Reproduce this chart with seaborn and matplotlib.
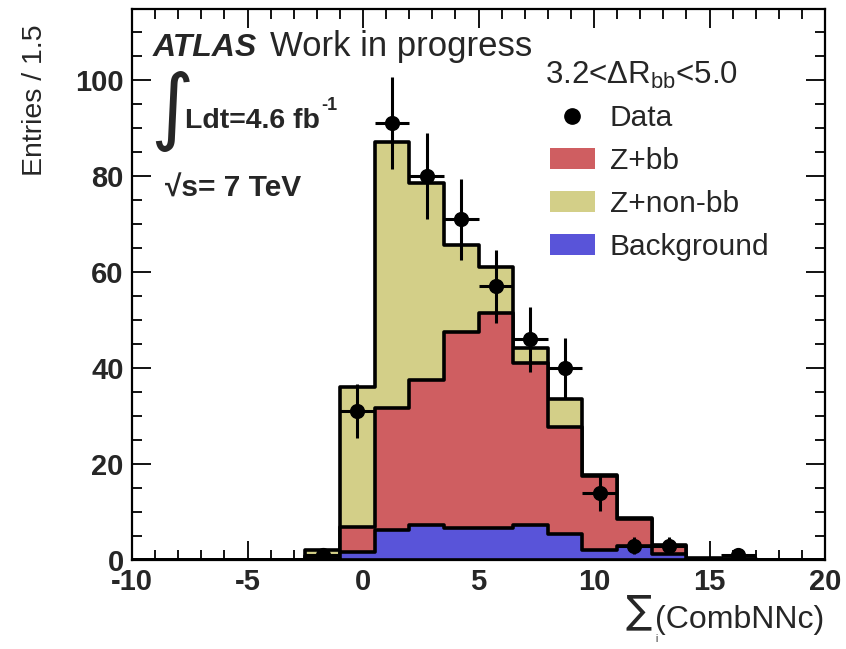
import numpy as np
import pandas as pd
import matplotlib
matplotlib.use("Agg")
import matplotlib.pyplot as plt
import seaborn as sns
from matplotlib.lines import Line2D
from matplotlib.patches import Patch
from matplotlib.ticker import MultipleLocator

# Binning: 20 bins of width 1.5 from -10 to 20
bin_edges = [-10.0, -8.5, -7.0, -5.5, -4.0, -2.5, -1.0, 0.5, 2.0, 3.5, 5.0,
             6.5, 8.0, 9.5, 11.0, 12.5, 14.0, 15.5, 17.0, 18.5, 20.0]

# Expected yields per bin for each process
background = [0, 0, 0, 0, 0, 0.3, 1.7, 6.3, 7.3, 6.6, 6.6, 7.3, 5.4, 2.1,
              2.9, 1.2, 0.1, 0.05, 0, 0]
z_bb = [0, 0, 0, 0, 0, 0.6, 5.2, 25.3, 30.2, 41.0, 44.9, 33.8, 22.4, 15.4,
        5.7, 1.7, 0.2, 0.15, 0, 0]
z_non_bb = [0, 0, 0, 0, 0, 1.2, 29.2, 55.4, 41.0, 18.0, 9.6, 3.0, 5.7, 0.3,
            0.2, 0.2, 0.1, 0.1, 0.05, 0]

# Observed events per bin
data_counts = [0, 0, 0, 0, 0, 1, 31, 91, 80, 71, 57, 46, 40, 14, 3, 3, 0, 1, 0, 0]

c_bb = "#CF5E61"
c_nonbb = "#D3CF88"
c_bkg = "#5954D9"

W, H = 846, 649

sns.set_theme(style="ticks")
plt.rcParams["font.family"] = ["Liberation Sans", "DejaVu Sans"]
plt.rcParams["mathtext.fontset"] = "custom"
plt.rcParams["mathtext.rm"] = "Liberation Sans"
plt.rcParams["mathtext.it"] = "Liberation Sans:italic"
plt.rcParams["mathtext.bf"] = "Liberation Sans:bold"
plt.rcParams["axes.unicode_minus"] = False

edges = np.array(bin_edges)
centers = 0.5 * (edges[:-1] + edges[1:])
bkg = np.array(background)
bb = np.array(z_bb)
nonbb = np.array(z_non_bb)
obs = np.array(data_counts, dtype=float)

fig = plt.figure(figsize=(W / 100, H / 100), dpi=100)
ax = fig.add_axes([132 / W, (H - 560) / H, (825 - 132) / W, (560 - 9) / H])

# Stacked step histograms, drawn as cumulative layers from top to bottom
layers = [
    (bkg + bb + nonbb, c_nonbb),
    (bkg + bb, c_bb),
    (bkg, c_bkg),
]
for vals, col in layers:
    layer_df = pd.DataFrame({"x": centers, "w": vals})
    sns.histplot(data=layer_df, x="x", weights="w", bins=list(bin_edges),
                 element="step", fill=True, color=col, edgecolor="black",
                 linewidth=2.6, alpha=1.0, ax=ax)

# Data with Poisson errors
mask = obs > 0
ax.errorbar(centers[mask], obs[mask], yerr=np.sqrt(obs[mask]), xerr=0.75,
            fmt="none", ecolor="black", elinewidth=2.2, capsize=0, zorder=5)
sns.scatterplot(x=centers[mask], y=obs[mask], color="black", s=120,
                edgecolor="black", linewidth=0, zorder=6, ax=ax)

ax.set_xlim(-10, 20)
ax.set_ylim(0, 114.8)
ax.set_xlabel("")
ax.set_ylabel("")

ax.xaxis.set_major_locator(MultipleLocator(5))
ax.xaxis.set_minor_locator(MultipleLocator(1))
ax.yaxis.set_major_locator(MultipleLocator(20))
ax.yaxis.set_minor_locator(MultipleLocator(5))
ax.tick_params(which="both", direction="in", top=True, right=True,
               color="black", width=1.3)
ax.tick_params(which="major", length=14, labelsize=21, pad=6)
ax.tick_params(which="minor", length=7)
for lab in ax.get_xticklabels() + ax.get_yticklabels():
    lab.set_fontweight("bold")
for sp in ax.spines.values():
    sp.set_linewidth(1.6)
    sp.set_color("black")


def fx(px):
    return px / W


def fy(py):
    return 1 - py / H


# Axis titles
fig.text(fx(35), fy(24), "Entries / 1.5", rotation=90, ha="center", va="top", fontsize=20.5)
fig.text(fx(639), fy(622), "\u2211", fontsize=28, ha="center", va="baseline",
         family=["DejaVu Sans"])
fig.text(fx(656), fy(642), "i", fontsize=7, ha="center", va="baseline")
fig.text(fx(824), fy(628), "(CombNNc)", ha="right", va="baseline", fontsize=23)

# Labels inside the frame
fig.text(fx(153), fy(56), "ATLAS", fontsize=23, fontweight="bold", fontstyle="italic", va="baseline")
fig.text(fx(270), fy(56), "Work in progress", fontsize=25, va="baseline")
fig.text(fx(172), fy(111), "\u222b", fontsize=60, ha="center", va="center",
         family=["DejaVu Sans"])
fig.text(fx(185), fy(128), "Ldt=4.6 fb", fontsize=20.5, fontweight="bold", va="baseline")
fig.text(fx(321), fy(110), "-1", fontsize=13, fontweight="bold", va="baseline")
fig.text(fx(165), fy(197), "\u221as= 7 TeV", fontsize=21.5, fontweight="bold", va="baseline")
fig.text(fx(545), fy(84), r"3.2<ΔR$_{\mathrm{bb}}$<5.0", fontsize=22.5, va="baseline")

handles = [
    Line2D([], [], marker="o", color="black", linestyle="none", markersize=11),
    Patch(facecolor=c_bb, edgecolor="none"),
    Patch(facecolor=c_nonbb, edgecolor="none"),
    Patch(facecolor=c_bkg, edgecolor="none"),
]
labels = ["Data", "Z+bb", "Z+non-bb", "Background"]
fig.legend(handles, labels, loc="upper left", bbox_to_anchor=(fx(550), fy(104)),
           bbox_transform=fig.transFigure, frameon=False, fontsize=21.5,
           handlelength=1.5, handleheight=0.7, handletextpad=0.5,
           labelspacing=0.5, borderpad=0, borderaxespad=0)

fig.savefig("out.png", dpi=100)
